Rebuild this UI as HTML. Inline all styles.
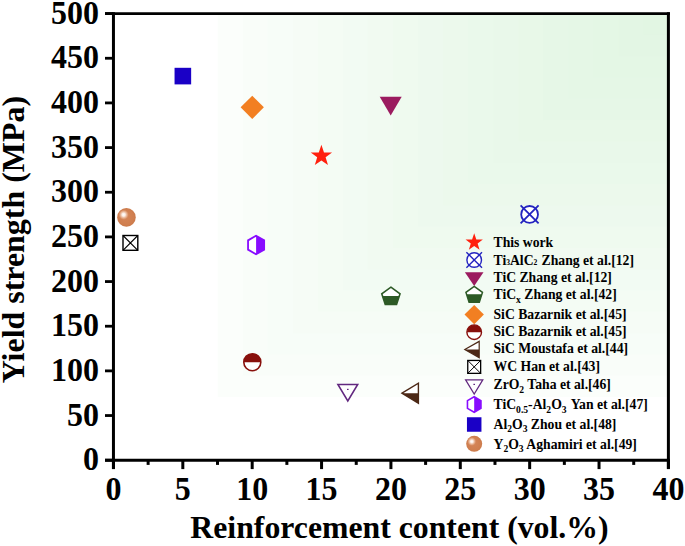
<!DOCTYPE html>
<html><head><meta charset="utf-8"><style>
html,body{margin:0;padding:0;background:#fff;width:685px;height:546px;overflow:hidden}
svg{display:block}
text{font-family:"Liberation Serif",serif;font-weight:bold;fill:#000}
.tk{font-size:32px}
.ttl{font-size:31.6px}
.lg{font-size:13.7px}
.sub{font-size:9.6px}
.sb{font-size:7.6px}
</style></head><body>
<svg width="685" height="546" viewBox="0 0 685 546">
<defs>
<radialGradient id="sph" cx="0.5" cy="0.5" r="0.5" fx="0.4" fy="0.4">
<stop offset="0" stop-color="#d6875a"/>
<stop offset="0.8" stop-color="#d07f50"/>
<stop offset="1" stop-color="#cb7a4a"/>
</radialGradient>
<radialGradient id="hl" cx="0.5" cy="0.5" r="0.5">
<stop offset="0" stop-color="#ffffff" stop-opacity="1"/>
<stop offset="0.3" stop-color="#fdf3ed" stop-opacity="0.95"/>
<stop offset="0.7" stop-color="#ecbb9c" stop-opacity="0.6"/>
<stop offset="1" stop-color="#d6875a" stop-opacity="0"/>
</radialGradient>
</defs>
<rect width="685" height="546" fill="#fff"/>
<rect x="217.70" y="13.60" width="450.70" height="383.40" fill="rgb(251, 254, 251)"/>
<rect x="242.74" y="13.60" width="425.66" height="362.10" fill="rgb(249, 253, 249)"/>
<rect x="267.78" y="13.60" width="400.62" height="340.80" fill="rgb(247, 253, 248)"/>
<rect x="292.82" y="13.60" width="375.58" height="319.50" fill="rgb(246, 252, 246)"/>
<rect x="317.86" y="13.60" width="350.54" height="298.20" fill="rgb(244, 252, 244)"/>
<rect x="342.89" y="13.60" width="325.51" height="276.90" fill="rgb(242, 251, 243)"/>
<rect x="367.93" y="13.60" width="300.47" height="255.60" fill="rgb(241, 250, 241)"/>
<rect x="392.97" y="13.60" width="275.43" height="234.30" fill="rgb(239, 250, 239)"/>
<rect x="418.01" y="13.60" width="250.39" height="213.00" fill="rgb(237, 249, 238)"/>
<rect x="443.05" y="13.60" width="225.35" height="191.70" fill="rgb(236, 249, 236)"/>
<rect x="468.09" y="13.60" width="200.31" height="170.40" fill="rgb(234, 249, 235)"/>
<rect x="493.13" y="13.60" width="175.27" height="149.10" fill="rgb(233, 248, 234)"/>
<rect x="518.17" y="13.60" width="150.23" height="127.80" fill="rgb(232, 248, 232)"/>
<rect x="543.21" y="13.60" width="125.19" height="106.50" fill="rgb(230, 247, 231)"/>
<rect x="568.24" y="13.60" width="100.16" height="85.20" fill="rgb(229, 247, 230)"/>
<rect x="593.28" y="13.60" width="75.12" height="63.90" fill="rgb(228, 247, 229)"/>
<rect x="618.32" y="13.60" width="50.08" height="42.60" fill="rgb(227, 246, 228)"/>
<rect x="643.36" y="13.60" width="25.04" height="21.30" fill="rgb(226, 246, 227)"/>
<rect x="174.54999999999998" y="67.8" width="16.6" height="16.6" fill="#1a00c6"/>
<polygon points="252.25,95.8 263.9,107.35 252.25,118.89999999999999 240.6,107.35" fill="#f27f22"/>
<polygon points="379.7,96.8 401.7,96.8 390.7,115.4" fill="#9b1b5f"/>
<polygon points="321.40,144.80 324.00,152.42 332.05,152.54 325.61,157.37 327.98,165.06 321.40,160.42 314.82,165.06 317.19,157.37 310.75,152.54 318.80,152.42" fill="#ff200e"/>
<circle cx="529.6" cy="214.4" r="8.4" fill="#fff" stroke="#2323c0" stroke-width="1.8"/><path d="M520.6,205.4L538.6,223.4M538.6,205.4L520.6,223.4" stroke="#2323c0" stroke-width="1.8"/>
<circle cx="126.45" cy="217.4" r="9.3" fill="url(#sph)"/><circle cx="123.65" cy="214.70" r="5.40" fill="url(#hl)"/>
<rect x="123.0" y="235.5" width="14.8" height="14.8" fill="#fff" stroke="#000" stroke-width="1.4"/><path d="M123.0,235.5L137.8,250.3M137.8,235.5L123.0,250.3" stroke="#000" stroke-width="1.1"/>
<polygon points="256.10,235.70 264.15,240.35 264.15,249.65 256.10,254.30 248.05,249.65 248.05,240.35" fill="#fff"/><polygon points="256.1,235.7 264.15,240.35 264.15,249.65 256.1,254.3" fill="#880cff"/><polygon points="256.10,235.70 264.15,240.35 264.15,249.65 256.10,254.30 248.05,249.65 248.05,240.35" fill="none" stroke="#880cff" stroke-width="1.8"/>
<clipPath id="pc390296"><rect x="379.29999999999995" y="296.0" width="23.2" height="13.6"/></clipPath><polygon points="390.90,287.20 400.03,293.83 396.54,304.57 385.26,304.57 381.77,293.83" fill="#fff"/><polygon points="390.90,287.20 400.03,293.83 396.54,304.57 385.26,304.57 381.77,293.83" fill="#2d5a26" clip-path="url(#pc390296)"/><polygon points="390.90,287.20 400.03,293.83 396.54,304.57 385.26,304.57 381.77,293.83" fill="none" stroke="#2d5a26" stroke-width="1.6" stroke-linejoin="miter"/>
<circle cx="252.3" cy="362.2" r="8.5" fill="#fff"/><path d="M243.8,362.2 A8.5,8.5 0 0 1 260.8,362.2 Z" fill="#88100c"/><circle cx="252.3" cy="362.2" r="8.5" fill="none" stroke="#88100c" stroke-width="1.6"/>
<polygon points="337.90000000000003,384.4 357.7,384.4 347.8,401.0" fill="#fff" stroke="#62287f" stroke-width="1.55"/><rect x="347.0" y="388.79999999999995" width="1.6" height="1.2" fill="#62287f"/>
<polygon points="402.0,393.2 418.4,383.2 418.4,403.2" fill="#fff"/><polygon points="402.0,393.2 418.4,393.2 418.4,403.2" fill="#4c2816"/><polygon points="402.0,393.2 418.4,383.2 418.4,403.2" fill="none" stroke="#4c2816" stroke-width="1.4" stroke-linejoin="miter"/>
<polygon points="474.20,233.30 476.31,239.49 482.85,239.59 477.62,243.51 479.55,249.76 474.20,245.99 468.85,249.76 470.78,243.51 465.55,239.59 472.09,239.49" fill="#ff200e"/>
<circle cx="474.2" cy="260.0" r="7.3" fill="#fff" stroke="#2323c0" stroke-width="1.4"/><path d="M466.4,252.2L482.0,267.8M482.0,252.2L466.4,267.8" stroke="#2323c0" stroke-width="1.4"/>
<polygon points="464.9,272.2 483.5,272.2 474.2,286.1" fill="#9b1b5f"/>
<clipPath id="pc474295"><rect x="463.5" y="294.3" width="21.4" height="12.7"/></clipPath><polygon points="474.20,286.40 482.47,292.41 479.31,302.14 469.09,302.14 465.93,292.41" fill="#fff"/><polygon points="474.20,286.40 482.47,292.41 479.31,302.14 469.09,302.14 465.93,292.41" fill="#2d5a26" clip-path="url(#pc474295)"/><polygon points="474.20,286.40 482.47,292.41 479.31,302.14 469.09,302.14 465.93,292.41" fill="none" stroke="#2d5a26" stroke-width="1.5" stroke-linejoin="miter"/>
<polygon points="474.2,305.0 483.9,314.6 474.2,324.20000000000005 464.5,314.6" fill="#f27f22"/>
<circle cx="474.2" cy="332.2" r="7.3" fill="#fff"/><path d="M466.9,332.2 A7.3,7.3 0 0 1 481.5,332.2 Z" fill="#88100c"/><circle cx="474.2" cy="332.2" r="7.3" fill="none" stroke="#88100c" stroke-width="1.4"/>
<polygon points="464.8,349.5 479.2,341.4 479.2,357.6" fill="#fff"/><polygon points="464.8,349.5 479.2,349.5 479.2,357.6" fill="#4c2816"/><polygon points="464.8,349.5 479.2,341.4 479.2,357.6" fill="none" stroke="#4c2816" stroke-width="1.2" stroke-linejoin="miter"/>
<rect x="467.75" y="360.45" width="12.9" height="12.9" fill="#fff" stroke="#000" stroke-width="1.3"/><path d="M467.75,360.45L480.65,373.34999999999997M480.65,360.45L467.75,373.34999999999997" stroke="#000" stroke-width="1.0"/>
<polygon points="465.59999999999997,379.8 482.8,379.8 474.2,394.0" fill="#fff" stroke="#62287f" stroke-width="1.25"/><rect x="473.4" y="383.79999999999995" width="1.6" height="1.2" fill="#62287f"/>
<polygon points="474.20,396.70 480.95,400.60 480.95,408.40 474.20,412.30 467.45,408.40 467.45,400.60" fill="#fff"/><polygon points="474.2,396.7 480.95,400.60 480.95,408.40 474.2,412.3" fill="#880cff"/><polygon points="474.20,396.70 480.95,400.60 480.95,408.40 474.20,412.30 467.45,408.40 467.45,400.60" fill="none" stroke="#880cff" stroke-width="1.6"/>
<rect x="466.95" y="417.25" width="14.5" height="14.5" fill="#1a00c6"/>
<circle cx="474.2" cy="443.8" r="8.0" fill="url(#sph)"/><circle cx="471.79" cy="441.48" r="4.65" fill="url(#hl)"/>
<line x1="113.45" y1="12.2" x2="113.45" y2="468.7" stroke="#000" stroke-width="3"/>
<line x1="105" y1="460.2" x2="669.9" y2="460.2" stroke="#000" stroke-width="3"/>
<line x1="105" y1="13.6" x2="669.9" y2="13.6" stroke="#000" stroke-width="2.8"/>
<line x1="668.4" y1="12.2" x2="668.4" y2="468.7" stroke="#000" stroke-width="3"/>
<line x1="105" y1="460.20" x2="113.45" y2="460.20" stroke="#000" stroke-width="2.8"/>
<text transform="translate(99,470.30) scale(1,1.055)" class="tk" text-anchor="end">0</text>
<line x1="105" y1="415.54" x2="113.45" y2="415.54" stroke="#000" stroke-width="2.8"/>
<text transform="translate(99,425.64) scale(1,1.055)" class="tk" text-anchor="end">50</text>
<line x1="105" y1="370.88" x2="113.45" y2="370.88" stroke="#000" stroke-width="2.8"/>
<text transform="translate(99,380.98) scale(1,1.055)" class="tk" text-anchor="end">100</text>
<line x1="105" y1="326.22" x2="113.45" y2="326.22" stroke="#000" stroke-width="2.8"/>
<text transform="translate(99,336.32) scale(1,1.055)" class="tk" text-anchor="end">150</text>
<line x1="105" y1="281.56" x2="113.45" y2="281.56" stroke="#000" stroke-width="2.8"/>
<text transform="translate(99,291.66) scale(1,1.055)" class="tk" text-anchor="end">200</text>
<line x1="105" y1="236.90" x2="113.45" y2="236.90" stroke="#000" stroke-width="2.8"/>
<text transform="translate(99,247.00) scale(1,1.055)" class="tk" text-anchor="end">250</text>
<line x1="105" y1="192.24" x2="113.45" y2="192.24" stroke="#000" stroke-width="2.8"/>
<text transform="translate(99,202.34) scale(1,1.055)" class="tk" text-anchor="end">300</text>
<line x1="105" y1="147.58" x2="113.45" y2="147.58" stroke="#000" stroke-width="2.8"/>
<text transform="translate(99,157.68) scale(1,1.055)" class="tk" text-anchor="end">350</text>
<line x1="105" y1="102.92" x2="113.45" y2="102.92" stroke="#000" stroke-width="2.8"/>
<text transform="translate(99,113.02) scale(1,1.055)" class="tk" text-anchor="end">400</text>
<line x1="105" y1="58.26" x2="113.45" y2="58.26" stroke="#000" stroke-width="2.8"/>
<text transform="translate(99,68.36) scale(1,1.055)" class="tk" text-anchor="end">450</text>
<line x1="105" y1="13.60" x2="113.45" y2="13.60" stroke="#000" stroke-width="2.8"/>
<text transform="translate(99,23.70) scale(1,1.055)" class="tk" text-anchor="end">500</text>
<line x1="113.45" y1="460.2" x2="113.45" y2="469.1" stroke="#000" stroke-width="3"/>
<text transform="translate(113.45,500.1) scale(1,1.045)" class="tk" text-anchor="middle">0</text>
<line x1="148.13" y1="460.2" x2="148.13" y2="464.9" stroke="#000" stroke-width="3"/>
<line x1="182.82" y1="460.2" x2="182.82" y2="469.1" stroke="#000" stroke-width="3"/>
<text transform="translate(182.82,500.1) scale(1,1.045)" class="tk" text-anchor="middle">5</text>
<line x1="217.50" y1="460.2" x2="217.50" y2="464.9" stroke="#000" stroke-width="3"/>
<line x1="252.19" y1="460.2" x2="252.19" y2="469.1" stroke="#000" stroke-width="3"/>
<text transform="translate(252.19,500.1) scale(1,1.045)" class="tk" text-anchor="middle">10</text>
<line x1="286.87" y1="460.2" x2="286.87" y2="464.9" stroke="#000" stroke-width="3"/>
<line x1="321.56" y1="460.2" x2="321.56" y2="469.1" stroke="#000" stroke-width="3"/>
<text transform="translate(321.56,500.1) scale(1,1.045)" class="tk" text-anchor="middle">15</text>
<line x1="356.24" y1="460.2" x2="356.24" y2="464.9" stroke="#000" stroke-width="3"/>
<line x1="390.92" y1="460.2" x2="390.92" y2="469.1" stroke="#000" stroke-width="3"/>
<text transform="translate(390.92,500.1) scale(1,1.045)" class="tk" text-anchor="middle">20</text>
<line x1="425.61" y1="460.2" x2="425.61" y2="464.9" stroke="#000" stroke-width="3"/>
<line x1="460.29" y1="460.2" x2="460.29" y2="469.1" stroke="#000" stroke-width="3"/>
<text transform="translate(460.29,500.1) scale(1,1.045)" class="tk" text-anchor="middle">25</text>
<line x1="494.98" y1="460.2" x2="494.98" y2="464.9" stroke="#000" stroke-width="3"/>
<line x1="529.66" y1="460.2" x2="529.66" y2="469.1" stroke="#000" stroke-width="3"/>
<text transform="translate(529.66,500.1) scale(1,1.045)" class="tk" text-anchor="middle">30</text>
<line x1="564.35" y1="460.2" x2="564.35" y2="464.9" stroke="#000" stroke-width="3"/>
<line x1="599.03" y1="460.2" x2="599.03" y2="469.1" stroke="#000" stroke-width="3"/>
<text transform="translate(599.03,500.1) scale(1,1.045)" class="tk" text-anchor="middle">35</text>
<line x1="633.72" y1="460.2" x2="633.72" y2="464.9" stroke="#000" stroke-width="3"/>
<line x1="668.40" y1="460.2" x2="668.40" y2="469.1" stroke="#000" stroke-width="3"/>
<text transform="translate(668.40,500.1) scale(1,1.045)" class="tk" text-anchor="middle">40</text>
<text x="493.5" y="247.10" class="lg">This work</text>
<text x="493.5" y="264.50" class="lg">Ti<tspan class="sb" dy="0.7">3</tspan><tspan dy="-0.7">AlC</tspan><tspan class="sb" dy="0.7">2</tspan><tspan dy="-0.7" dx="0.8"> Zhang et al.[12]</tspan></text>
<text x="493.5" y="281.50" class="lg">TiC Zhang et al.[12]</text>
<text x="493.5" y="299.40" class="lg">TiC<tspan class="sub" dy="3.2">x</tspan><tspan dy="-3.2"> Zhang et al.[42]</tspan></text>
<text x="493.5" y="319.30" class="lg">SiC Bazarnik et al.[45]</text>
<text x="493.5" y="335.80" class="lg">SiC Bazarnik et al.[45]</text>
<text x="493.5" y="353.40" class="lg">SiC Moustafa et al.[44]</text>
<text x="493.5" y="371.40" class="lg">WC Han et al.[43]</text>
<text x="493.5" y="389.10" class="lg">ZrO<tspan class="sub" dy="3.6">2</tspan><tspan dy="-3.6"> Taha et al.[46]</tspan></text>
<text x="493.5" y="409.10" class="lg">TiC<tspan class="sub" dy="3.6">0.5</tspan><tspan dy="-3.6">-Al</tspan><tspan class="sub" dy="3.6">2</tspan><tspan dy="-3.6">O</tspan><tspan class="sub" dy="3.6">3</tspan><tspan dy="-3.6" dx="1.2"> Yan et al.[47]</tspan></text>
<text x="493.5" y="428.50" class="lg">Al<tspan class="sub" dy="3.6">2</tspan><tspan dy="-3.6">O</tspan><tspan class="sub" dy="3.6">3</tspan><tspan dy="-3.6"> Zhou et al.[48]</tspan></text>
<text x="493.5" y="448.80" class="lg">Y<tspan class="sub" dy="3.6">2</tspan><tspan dy="-3.6">O</tspan><tspan class="sub" dy="3.6">3</tspan><tspan dy="-3.6"> Aghamiri et al.[49]</tspan></text>
<text x="399.45" y="538.2" class="ttl" style="font-size:31.75px" text-anchor="middle">Reinforcement content (vol.%)</text>
<text transform="translate(23.6,239.6) rotate(-90)" class="ttl" style="font-size:31.95px" text-anchor="middle">Yield strength (MPa)</text>
</svg>
</body></html>
